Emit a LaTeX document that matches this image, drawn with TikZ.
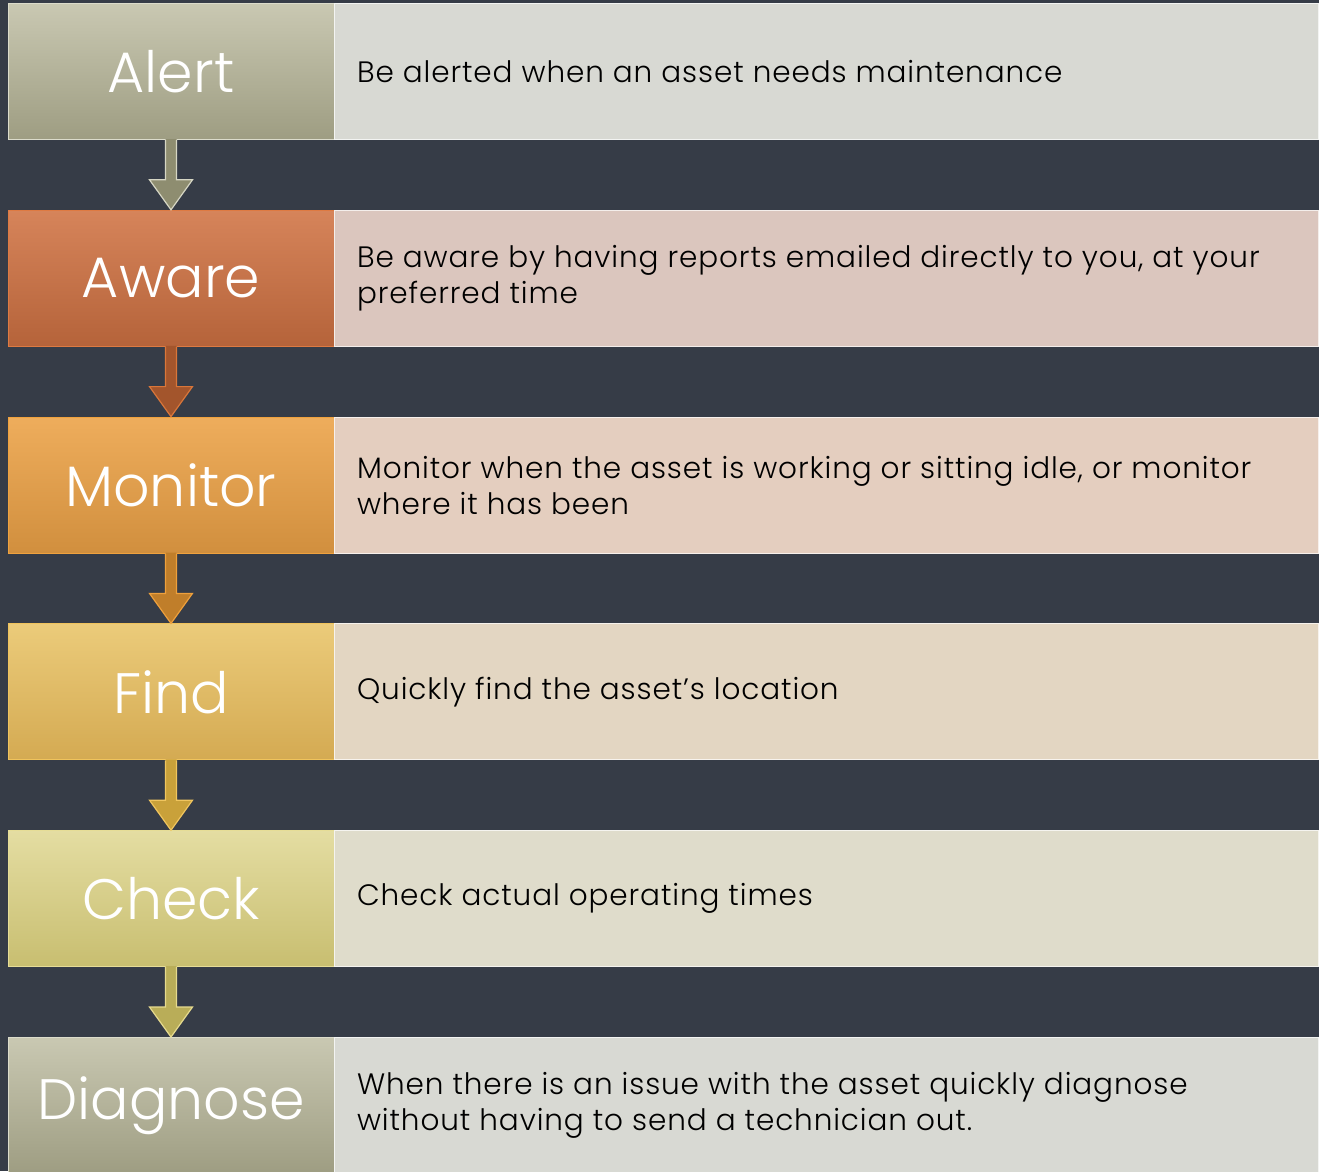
\documentclass[tikz,border=0pt]{standalone}
\usepackage{fontspec}
\setmainfont{Poppins}
\newfontfamily\thinfont{Poppins Light}
\usetikzlibrary{calc}

\definecolor{bgdark}{HTML}{363C47}
\definecolor{alertT}{HTML}{C9C8B2}\definecolor{alertB}{HTML}{9E9D82}\definecolor{alertE}{HTML}{DCDCCB}\definecolor{alertD}{HTML}{D8D9D3}
\definecolor{awareT}{HTML}{D6845A}\definecolor{awareB}{HTML}{B5633A}\definecolor{awareE}{HTML}{DE7A42}\definecolor{awareD}{HTML}{DBC6BE}
\definecolor{monT}{HTML}{EEAD5C}\definecolor{monB}{HTML}{D18F3E}\definecolor{monE}{HTML}{F0A23E}\definecolor{monD}{HTML}{E4CEBF}
\definecolor{findT}{HTML}{EBCB7A}\definecolor{findB}{HTML}{D4AA52}\definecolor{findE}{HTML}{F0C35C}\definecolor{findD}{HTML}{E3D6C2}
\definecolor{checkT}{HTML}{E4DDA2}\definecolor{checkB}{HTML}{C8BE70}\definecolor{checkE}{HTML}{E6DD96}\definecolor{checkD}{HTML}{DFDCCB}
\definecolor{arrA}{HTML}{8E8D70}\definecolor{arrAE}{HTML}{D6D6C4}
\definecolor{arrB}{HTML}{A3552C}\definecolor{arrBE}{HTML}{D9763A}
\definecolor{arrC}{HTML}{C07E2A}\definecolor{arrCE}{HTML}{EEA03C}
\definecolor{arrD}{HTML}{C9A13A}\definecolor{arrDE}{HTML}{F0C55E}
\definecolor{arrE}{HTML}{B9AD58}\definecolor{arrEE}{HTML}{E6DA8E}

\tikzset{
  stepbox/.style={draw=#1E, line width=1pt, top color=#1T, bottom color=#1B,
    minimum width=326pt, minimum height=136pt, inner sep=0pt,
    text=white, font=\thinfont\fontsize{57}{60}\selectfont},
  descbox/.style={draw=white!70!#1D, line width=1pt, fill=#1D, anchor=west,
    minimum width=984pt, minimum height=136pt, inner sep=0pt, outer sep=0pt},
  desctext/.style={anchor=west, align=left, text=black,
    font=\thinfont\fontsize{29.5}{36}\selectfont\addfontfeature{LetterSpace=3}},
}

\begin{document}
\begin{tikzpicture}[x=1pt,y=1pt]
\fill[bgdark] (0,0) rectangle (1319,-1171);
\useasboundingbox (0,0) rectangle (1319,-1171);

% steps on the left
\node[stepbox=alert] (alert)    at (171,-71.5)   {Alert};
\node[stepbox=aware] (aware)    at (171,-278.3)  {Aware};
\node[stepbox=mon]   (monitor)  at (171,-485.1)  {Monitor};
\node[stepbox=find]  (find)     at (171,-691.9)  {Find};
\node[stepbox=check] (check)    at (171,-898.7)  {Check};
\node[stepbox=alert] (diagnose) at (171,-1105.5) {Diagnose};

% descriptions on the right
\foreach \s/\c in {alert/alert,aware/aware,monitor/mon,find/find,check/check,diagnose/alert}
  \node[descbox=\c] (\s-d) at (\s.east) {};

\node[desctext] (alert-t)    at ($(alert-d.west)+(19,0)$)    {Be alerted when an asset needs maintenance};
\node[desctext] (aware-t)    at ($(aware-d.west)+(19,0)$)    {Be aware by having reports emailed directly to you, at your\\preferred time};
\node[desctext] (monitor-t)  at ($(monitor-d.west)+(19,0)$)  {Monitor when the asset is working or sitting idle, or monitor\\where it has been};
\node[desctext] (find-t)     at ($(find-d.west)+(19,0)$)     {Quickly find the asset’s location};
\node[desctext] (check-t)    at ($(check-d.west)+(19,0)$)    {Check actual operating times};
\node[desctext] (diagnose-t) at ($(diagnose-d.west)+(19,0)$) {When there is an issue with the asset quickly diagnose\\without having to send a technician out.};

% block arrows between the steps
\foreach \a/\b/\fc in {alert/aware/arrA,aware/monitor/arrB,monitor/find/arrC,find/check/arrD,check/diagnose/arrE}{
  \fill[\fc] ($(\a.south)+(-5.5,1)$) -- ($(\b.north)+(-5.5,30)$) -- ($(\b.north)+(-21.5,30)$)
    -- (\b.north) -- ($(\b.north)+(21.5,30)$) -- ($(\b.north)+(5.5,30)$) -- ($(\a.south)+(5.5,1)$) -- cycle;
  \draw[\fc E, line width=1.2pt, line join=miter] ($(\a.south)+(-5.5,0)$) -- ($(\b.north)+(-5.5,30)$) -- ($(\b.north)+(-21.5,30)$)
    -- (\b.north) -- ($(\b.north)+(21.5,30)$) -- ($(\b.north)+(5.5,30)$) -- ($(\a.south)+(5.5,0)$);
}
\end{tikzpicture}
\end{document}
